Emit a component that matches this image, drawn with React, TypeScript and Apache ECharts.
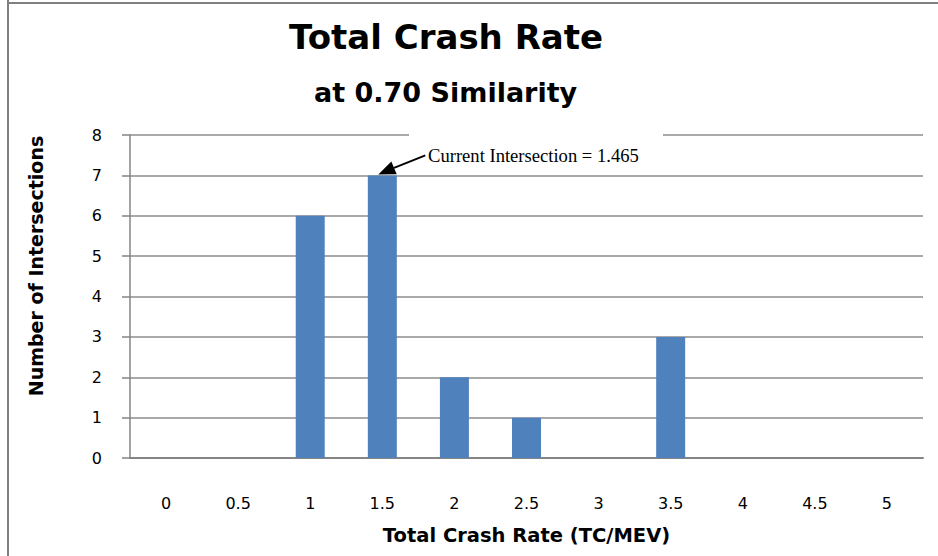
import React, { useEffect, useRef } from "react";
import * as echarts from "echarts";

const categories = ["0", "0.5", "1", "1.5", "2", "2.5", "3", "3.5", "4", "4.5", "5"];
const counts = [0, 0, 6, 7, 2, 1, 0, 3, 0, 0, 0];
const yTicks = { min: 0, max: 8, interval: 1 };
const titleText = "Total Crash Rate";
const subtitleText = "at 0.70 Similarity";
const xName = "Total Crash Rate (TC/MEV)";
const yName = "Number of Intersections";
const annotationText = "Current Intersection = 1.465";
const annotatedCategory = "1.5";
const annotatedValue = 7;

const FONT = "'DejaVu Sans', 'Open Sans', sans-serif";

export default function App() {
  const ref = useRef<HTMLDivElement>(null);
  useEffect(() => {
    if (!ref.current) return;
    const chart = echarts.init(ref.current, null, { renderer: "svg" });
    chart.setOption({
      animation: false,
      backgroundColor: "#ffffff",
      title: [
        {
          text: titleText,
          left: 284,
          top: 15,
          textStyle: { fontFamily: FONT, fontWeight: "bold", fontSize: 34, color: "#000" },
        },
        {
          text: subtitleText,
          left: 309,
          top: 74,
          textStyle: { fontFamily: FONT, fontWeight: "bold", fontSize: 27, color: "#000" },
        },
      ],
      grid: { left: 130, top: 135, width: 793, height: 323 },
      xAxis: {
        type: "category",
        data: categories,
        axisLine: { show: true, lineStyle: { color: "#858585", width: 2 } },
        axisTick: { show: false },
        axisLabel: { margin: 37, fontFamily: FONT, fontSize: 16, color: "#000" },
        name: xName,
        nameLocation: "middle",
        nameGap: 67,
        nameTextStyle: { fontFamily: FONT, fontWeight: "bold", fontSize: 19.5, color: "#000" },
      },
      yAxis: {
        type: "value",
        min: yTicks.min,
        max: yTicks.max,
        interval: yTicks.interval,
        axisLine: { show: true, lineStyle: { color: "#858585", width: 1.5 } },
        axisTick: { show: true, length: 8, lineStyle: { color: "#858585", width: 1.5 } },
        splitLine: { show: true, lineStyle: { color: "#8c8c8c", width: 1.5 } },
        axisLabel: { margin: 28, fontFamily: FONT, fontSize: 16, color: "#000" },
      },
      series: [
        {
          type: "bar",
          data: counts,
          barWidth: 29,
          itemStyle: { color: "#4f81bd", borderWidth: 0 },
        },
      ],
    });

    const tip = chart.convertToPixel({ seriesIndex: 0 }, [annotatedCategory, annotatedValue]) as number[];
    const tx = tip[0] - 4;
    const ty = tip[1] - 1;
    const sx = tx + 46;
    const sy = ty - 19;
    const ang = Math.atan2(ty - sy, tx - sx);
    const hl = 17;
    const hw = 7;
    const bx = tx - hl * Math.cos(ang);
    const by = ty - hl * Math.sin(ang);
    const px = -Math.sin(ang) * hw;
    const py = Math.cos(ang) * hw;

    chart.setOption({
      graphic: [
        { type: "line", shape: { x1: 8, y1: 0, x2: 8, y2: 556 }, style: { stroke: "#808080", lineWidth: 2 }, z: 1 },
        { type: "line", shape: { x1: 8, y1: 3, x2: 938, y2: 3 }, style: { stroke: "#808080", lineWidth: 2 }, z: 1 },
        {
          type: "text",
          x: 36,
          y: 266,
          rotation: Math.PI / 2,
          style: {
            text: yName,
            fontFamily: FONT,
            fontWeight: "bold",
            fontSize: 19,
            fill: "#000",
            align: "center",
            verticalAlign: "middle",
          },
          z: 10,
        },
        {
          type: "rect",
          shape: { x: 409, y: 131, width: 254, height: 42 },
          style: { fill: "#ffffff" },
          z: 50,
        },
        {
          type: "text",
          x: 428,
          y: 155,
          style: {
            text: annotationText,
            fontFamily: "'Liberation Serif', 'Times New Roman', serif",
            fontSize: 18.6,
            fill: "#000",
            verticalAlign: "middle",
          },
          z: 51,
        },
        {
          type: "line",
          shape: { x1: sx + 1, y1: sy, x2: bx, y2: by },
          style: { stroke: "#000", lineWidth: 2 },
          z: 52,
        },
        {
          type: "polygon",
          shape: { points: [[tx, ty], [bx + px, by + py], [bx - px, by - py]] },
          style: { fill: "#000" },
          z: 52,
        },
      ],
    });
    return () => chart.dispose();
  }, []);
  return <div ref={ref} style={{ position: "fixed", left: 0, top: 0, width: 938, height: 556 }} />;
}
